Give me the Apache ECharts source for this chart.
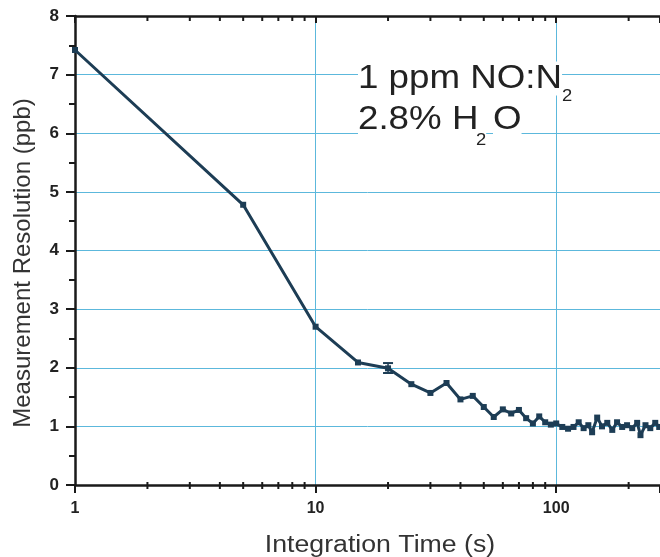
<!DOCTYPE html>
<html>
<head>
<meta charset="utf-8">
<script src="https://cdn.jsdelivr.net/npm/echarts@6/dist/echarts.min.js"></script>
<style>
html,body{margin:0;padding:0;background:#fff;overflow:hidden;}
#chart{width:660px;height:557px;}
</style>
</head>
<body>
<div id="chart"></div>
<script>
// Integration time (s)
const timeValues = [1, 5, 10, 15, 20, 25, 30, 35, 40, 45, 50, 55, 60, 65, 70, 75, 80, 85, 90, 95, 100,
  106, 112, 118, 124, 130, 136, 141, 148, 155, 163, 171, 179, 188, 197, 207, 217, 224, 235, 246, 258, 268];
// Measurement resolution (ppb)
const resolutionValues = [7.42, 4.78, 2.70, 2.09, 1.99, 1.72, 1.57, 1.74, 1.46, 1.52, 1.33, 1.16, 1.29, 1.22, 1.28, 1.14, 1.05, 1.17, 1.07, 1.03, 1.05,
  0.99, 0.96, 0.99, 1.07, 0.97, 1.02, 0.90, 1.15, 1.00, 1.06, 0.94, 1.07, 0.99, 1.02, 0.97, 1.06, 0.85, 1.02, 0.97, 1.06, 0.99];
// Error bar: [time, low, high]
const errorBars = [[20, 1.91, 2.08]];
// Minor tick positions on the log axis
const minorTickValues = [2, 3, 4, 5, 6, 7, 8, 9, 20, 30, 40, 50, 60, 70, 80, 90, 200];
const xTickLabels = ['1', '10', '100'];
const yTickLabels = ['0', '1', '2', '3', '4', '5', '6', '7', '8'];
const xAxisTitle = 'Integration Time (s)';
const yAxisTitle = 'Measurement Resolution (ppb)';
const noteLine1 = '1 ppm NO:N';
const noteLine2a = '2.8% H';
const noteLine2b = 'O';
const noteSub = '2';

const lineColor = '#1d3d55';
const gridColor = '#5cb8dc';
const axisColor = '#1a1a1a';
const FONT = '"Liberation Sans", Arial, sans-serif';

const chart = echarts.init(document.getElementById('chart'), null, {renderer: 'canvas'});

function noteText(txt, x, y, size, extraPad) {
  return {
    type: 'text', x: x, y: y, scaleX: 1.08, z: 100,
    style: {text: txt, font: size + 'px ' + FONT, fill: '#222', align: 'left', verticalAlign: 'middle',
      backgroundColor: '#fff', padding: extraPad || [0, 0, 0, 0]}
  };
}

const option = {
  backgroundColor: '#fff',
  animation: false,
  grid: {left: 75, right: 0, top: 16, bottom: 72, containLabel: false, outerBoundsMode: 'none'},
  xAxis: [{
    type: 'log', logBase: 10, min: 1, max: 270,
    axisLine: {show: true, onZero: false, lineStyle: {color: axisColor, width: 2.5}},
    axisTick: {show: true, inside: false, length: 8, lineStyle: {color: axisColor, width: 2}},
    axisLabel: {show: true, margin: 16, fontFamily: FONT, fontSize: 16, fontWeight: 'bold', color: '#222',
      formatter: function (v) { const s = String(Math.round(v)); return xTickLabels.indexOf(s) >= 0 ? s : ''; }},
    splitLine: {show: true, lineStyle: {color: gridColor, width: 1}},
    minorTick: {show: false}
  }, {
    type: 'log', logBase: 10, min: 1, max: 270, position: 'top',
    axisLine: {show: true, onZero: false, lineStyle: {color: axisColor, width: 2.5}},
    axisTick: {show: true, inside: true, length: 7, lineStyle: {color: axisColor, width: 2}},
    axisLabel: {show: false},
    splitLine: {show: false}
  }],
  yAxis: {
    type: 'value', min: 0, max: 8, interval: 1,
    name: yAxisTitle, nameLocation: 'middle', nameGap: 40,
    nameTextStyle: {fontFamily: FONT, fontSize: 24, color: '#333', padding: [0, 25, 0, 0]},
    axisLine: {show: true, onZero: false, lineStyle: {color: axisColor, width: 2.5}},
    axisTick: {show: true, inside: false, length: 9, lineStyle: {color: axisColor, width: 2}},
    minorTick: {show: true, splitNumber: 2, length: 6, lineStyle: {color: axisColor, width: 2}},
    axisLabel: {margin: 16, fontFamily: FONT, fontSize: 17, fontWeight: 'bold', color: '#222',
      formatter: function (v) { return yTickLabels[Math.round(v)]; }},
    splitLine: {show: true, lineStyle: {color: gridColor, width: 1}}
  },
  graphic: [
    noteText(noteLine1, 358, 78.5, 34, [0, 0, 0, 0]),
    noteText(noteSub, 562, 96.5, 17, [0, 4, 0, 0]),
    noteText(noteLine2a, 358, 119.5, 34),
    noteText(noteSub, 476, 140.7, 17),
    noteText(noteLine2b, 493, 119.5, 34, [0, 0, 0, 0]),
    {type: 'text', x: 380, y: 546, scaleX: 1.16, z: 100,
      style: {text: xAxisTitle, font: '23px ' + FONT, fill: '#333', align: 'center', verticalAlign: 'middle'}}
  ],
  series: [{
    type: 'line',
    data: timeValues.map((t, i) => [t, resolutionValues[i]]),
    symbol: 'rect', symbolSize: 6, showSymbol: true,
    itemStyle: {color: lineColor},
    lineStyle: {color: lineColor, width: 3},
    z: 5
  }, {
    type: 'custom',
    data: errorBars,
    z: 6,
    renderItem: function (params, api) {
      const lo = api.coord([api.value(0), api.value(1)]);
      const hi = api.coord([api.value(0), api.value(2)]);
      const w = 5;
      return {type: 'group', children: [
        {type: 'line', shape: {x1: lo[0], y1: lo[1], x2: hi[0], y2: hi[1]}, style: {stroke: lineColor, lineWidth: 1.5}},
        {type: 'line', shape: {x1: lo[0] - w, y1: lo[1], x2: lo[0] + w, y2: lo[1]}, style: {stroke: lineColor, lineWidth: 2}},
        {type: 'line', shape: {x1: hi[0] - w, y1: hi[1], x2: hi[0] + w, y2: hi[1]}, style: {stroke: lineColor, lineWidth: 2}}
      ]};
    }
  }, {
    type: 'custom',
    data: minorTickValues,
    silent: true,
    clip: false,
    z: 10,
    renderItem: function (params, api) {
      const v = api.value(0);
      const b = api.coord([v, 0]);
      const t = api.coord([v, 8]);
      return {type: 'group', children: [
        {type: 'line', shape: {x1: b[0], y1: b[1] - 3, x2: b[0], y2: b[1] + 4}, style: {stroke: axisColor, lineWidth: 2}},
        {type: 'line', shape: {x1: t[0], y1: t[1], x2: t[0], y2: t[1] + 5}, style: {stroke: axisColor, lineWidth: 2}}
      ]};
    }
  }]
};
chart.setOption(option);
</script>
</body>
</html>
